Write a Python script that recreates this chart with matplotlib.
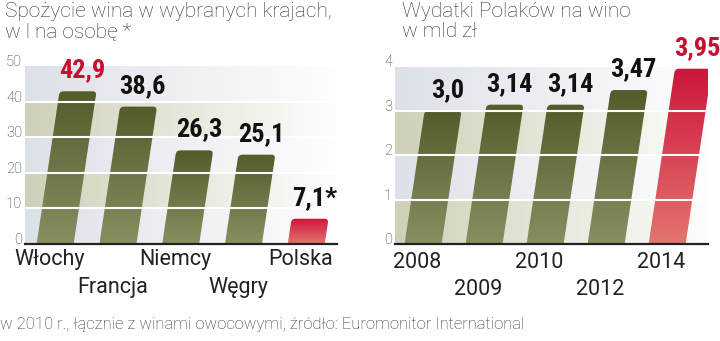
import numpy as np
import matplotlib.pyplot as plt
from matplotlib.patches import FancyBboxPatch
from matplotlib.transforms import Affine2D
from matplotlib.colors import LinearSegmentedColormap

# dane
kraje = ['Włochy', 'Francja', 'Niemcy', 'Węgry', 'Polska']
spozycie = [42.9, 38.6, 26.3, 25.1, 7.1]
spozycie_etykiety = ['42,9', '38,6', '26,3', '25,1', '7,1*']

lata = ['2008', '2009', '2010', '2012', '2014']
wydatki = [3.0, 3.14, 3.14, 3.47, 3.95]
wydatki_etykiety = ['3,0', '3,14', '3,14', '3,47', '3,95']

plt.rcParams['font.family'] = ['Roboto', 'DejaVu Sans']

OLIWKA = LinearSegmentedColormap.from_list('oliwka', ['#878f61', '#535d2b'])
CZERWIEN = LinearSegmentedColormap.from_list('czerwien', ['#e3746f', '#cd163c'])
SZARY = np.array([0.866, 0.882, 0.910])
BEZ = np.array([0.812, 0.816, 0.725])
TEKST = '#222222'
CZERWONY = '#c8102e'
FONT_WARTOSCI = ['Roboto Condensed', 'Liberation Sans Narrow', 'DejaVu Sans Condensed', 'Roboto']


def rysuj(ax, kategorie, wartosci, etykiety, ymax, krok, xlim, czerwony_slupek, czerwona_etykieta, rzedy):
    ax.set_xlim(*xlim)
    ax.set_ylim(0, ymax)
    bb = ax.get_window_extent()
    px_x = bb.width / (xlim[1] - xlim[0])
    px_y = bb.height / ymax
    k = 0.15 * px_y / px_x          # pochylenie slupkow
    aspekt = px_x / px_y
    szer = 37 / px_x
    r = 4 / px_x

    # tlo w pasy, wygaszane w prawo
    n = int(round(ymax / krok))
    fade = np.linspace(1, 0.03, 300)[None, :, None]
    for j in range(n):
        c = SZARY if (n - 1 - j) % 2 == 0 else BEZ
        ax.imshow(c[None, None, :] * fade + (1 - fade),
                  extent=(xlim[0], xlim[1], j * krok, (j + 1) * krok),
                  origin='lower', aspect='auto', zorder=0.5)

    skos = Affine2D(np.array([[1, k, 0], [0, 1, 0], [0, 0, 1]]))
    for i, v in enumerate(wartosci):
        p = FancyBboxPatch((i - szer / 2, -r * aspekt), szer, v + r * aspekt,
                           boxstyle=f'round,pad=0,rounding_size={r}',
                           mutation_aspect=aspekt, linewidth=0, facecolor='none')
        p.set_transform(skos + ax.transData)
        ax.add_patch(p)
        cmap = CZERWIEN if i in czerwony_slupek else OLIWKA
        grad = np.linspace(0, 1, 64).reshape(-1, 1)
        im = ax.imshow(grad, cmap=cmap, extent=(i - szer / 2 - 0.05, i + szer / 2 + k * v + 0.05, 0, v),
                       origin='lower', aspect='auto', zorder=2)
        im.set_clip_path(p)
        ax.annotate(etykiety[i], xy=(i + k * v, v), xytext=(3, 15), textcoords='offset points',
                    ha='center', va='center', fontsize=19, fontweight='bold',
                    family=FONT_WARTOSCI, fontstretch='condensed',
                    color=CZERWONY if i in czerwona_etykieta else '#111111',
                    annotation_clip=False, zorder=6)
        # podpisy kategorii w dwoch rzedach
        ax.annotate(kategorie[i], xy=(i, 0), xytext=(-4, -rzedy[i % 2]), textcoords='offset points',
                    ha='center', va='center', fontsize=15.5, color=TEKST,
                    annotation_clip=False)

    for y in np.arange(krok, ymax, krok):
        ax.axhline(y, color='white', lw=1.5, zorder=3)

    ax.set_xlim(*xlim)
    ax.set_ylim(0, ymax)
    for s in ['top', 'right', 'left']:
        ax.spines[s].set_visible(False)
    ax.spines['bottom'].set_color(TEKST)
    ax.spines['bottom'].set_linewidth(1.6)
    ax.spines['bottom'].set_zorder(4)

    ax.set_yticks(np.arange(0, ymax + 1, krok))
    ax.set_yticklabels([f'{int(t)}' for t in np.arange(0, ymax + 1, krok)])
    ax.tick_params(axis='y', length=0, pad=2, labelsize=10.5, labelcolor='#333333')
    for t in ax.get_yticklabels():
        t.set_fontweight('light')
        t.set_verticalalignment('baseline')
    ax.set_xticks([])


fig = plt.figure(figsize=(7.2, 3.41), dpi=100)
ax1 = fig.add_axes([25 / 720, 97 / 341, 312 / 720, 178 / 341])
ax2 = fig.add_axes([395 / 720, 97 / 341, 313 / 720, 177.5 / 341])

rysuj(ax1, kraje, spozycie, spozycie_etykiety, 50, 10, (-0.48, 4.49), [4], [0], (11.5, 31.5))
rysuj(ax2, lata, wydatki, wydatki_etykiety, 4, 1, (-0.46, 4.67), [4], [4], (13.5, 33))

fig.text(5 / 720, 1 - 2 / 341, 'Spożycie wina w wybranych krajach,\nw l na osobę *',
         ha='left', va='top', fontsize=15, fontweight='light', color='#333333', linespacing=1.05)
fig.text(402 / 720, 1 - 2 / 341, 'Wydatki Polaków na wino\nw mld zł',
         ha='left', va='top', fontsize=15, fontweight='light', color='#333333', linespacing=1.05)
fig.text(0, 16 / 341, 'w 2010 r., łącznie z winami owocowymi, źródło: Euromonitor International',
         ha='left', va='center', fontsize=12, fontweight='light', color='#333333')

fig.savefig('out.png', dpi=100)
